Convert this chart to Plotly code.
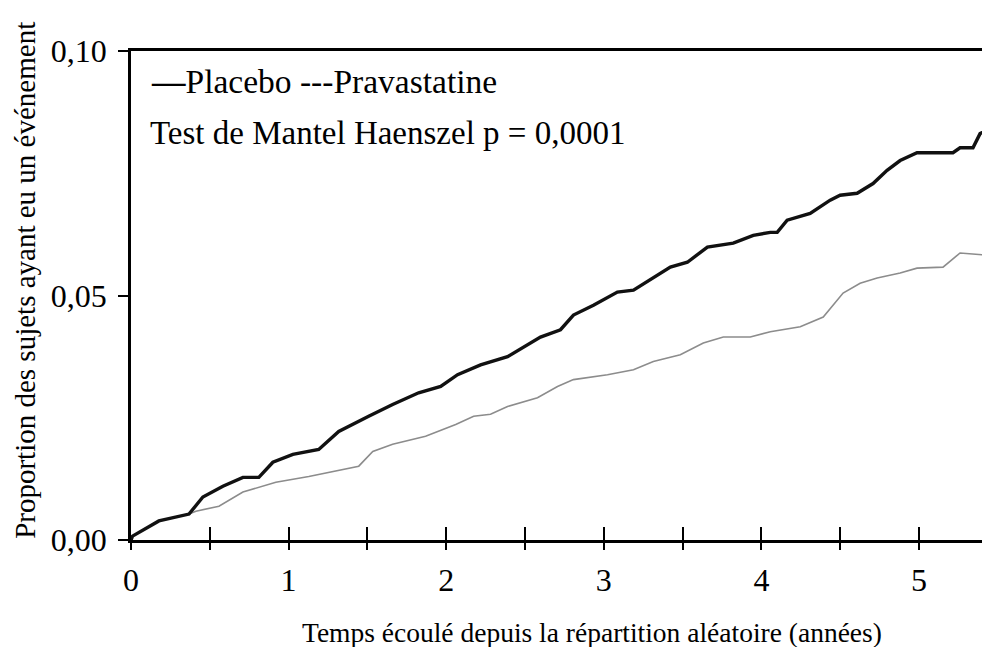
import plotly.graph_objects as go

placebo_t = [0, 0.01, 0.177, 0.368, 0.456, 0.583, 0.71, 0.811, 0.90, 1.027, 1.191, 1.318, 1.508, 1.66, 1.825,
             1.965, 2.072, 2.218, 2.389, 2.49, 2.598, 2.725, 2.807, 2.934, 3.086, 3.188, 3.295, 3.422, 3.53,
             3.657, 3.821, 3.948, 4.056, 4.10, 4.163, 4.309, 4.436, 4.499, 4.607, 4.708, 4.797, 4.88, 4.987,
             5.215, 5.26, 5.342, 5.387, 5.45]
placebo_p = [0, 0.0008, 0.0039, 0.0053, 0.0088, 0.011, 0.0128, 0.0128, 0.0159, 0.0175, 0.0185, 0.0222, 0.0253,
             0.0277, 0.0301, 0.0314, 0.0338, 0.0358, 0.0375, 0.0395, 0.0415, 0.043, 0.046, 0.048, 0.0507, 0.0511,
             0.0532, 0.0558, 0.0568, 0.0599, 0.0607, 0.0623, 0.0629, 0.0629, 0.0654, 0.0668, 0.0695, 0.0705,
             0.0709, 0.0729, 0.0756, 0.0776, 0.0792, 0.0792, 0.0802, 0.0802, 0.0831, 0.0841]

prava_t = [0, 0.01, 0.177, 0.368, 0.412, 0.558, 0.71, 0.919, 1.128, 1.28, 1.445, 1.534, 1.66, 1.869, 2.06,
           2.174, 2.281, 2.389, 2.579, 2.706, 2.807, 3.023, 3.188, 3.314, 3.485, 3.631, 3.758, 3.929, 4.056,
           4.246, 4.392, 4.518, 4.626, 4.734, 4.88, 4.987, 5.152, 5.26, 5.45]
prava_p = [0, 0.0008, 0.0039, 0.0053, 0.0059, 0.0069, 0.0098, 0.0118, 0.013, 0.014, 0.0151, 0.0181, 0.0196,
           0.0212, 0.0236, 0.0253, 0.0257, 0.0273, 0.0291, 0.0314, 0.0328, 0.0338, 0.0348, 0.0365, 0.0379,
           0.0403, 0.0415, 0.0415, 0.0426, 0.0436, 0.0456, 0.0505, 0.0525, 0.0536, 0.0546, 0.0556, 0.0558,
           0.0587, 0.0582]

x_tickvals = [0, 0.5, 1, 1.5, 2, 2.5, 3, 3.5, 4, 4.5, 5]
x_ticktext = ["0", "", "1", "", "2", "", "3", "", "4", "", "5"]
y_tickvals = [0, 0.05, 0.10]
y_ticktext = ["0,00", "0,05", "0,10"]

FONT = "Liberation Serif, Times New Roman, serif"

fig = go.Figure()
fig.add_trace(go.Scatter(x=prava_t, y=prava_p, mode="lines", name="Pravastatine",
                         line=dict(color="#8c8c8c", width=1.6)))
fig.add_trace(go.Scatter(x=placebo_t, y=placebo_p, mode="lines", name="Placebo",
                         line=dict(color="#111111", width=3.4)))
# invisible trace carrying the inward half of the x ticks
fig.add_trace(go.Scatter(x=[0], y=[0], xaxis="x2", mode="markers", marker=dict(opacity=0),
                         showlegend=False, hoverinfo="skip"))

fig.update_layout(
    width=982, height=639,
    margin=dict(l=123, r=0, t=43, b=107),
    paper_bgcolor="white", plot_bgcolor="white",
    showlegend=False,
    font=dict(family=FONT, color="black"),
    xaxis=dict(range=[0, 5.45], tickvals=x_tickvals, ticktext=x_ticktext,
               ticks="outside", ticklen=7, tickwidth=2, tickcolor="black",
               showline=True, linecolor="black", linewidth=2.5, mirror=True,
               showgrid=False, zeroline=False, ticklabelstandoff=3,
               tickfont=dict(size=32, family=FONT)),
    xaxis2=dict(range=[0, 5.45], overlaying="x", side="bottom", tickvals=x_tickvals,
                ticktext=[""] * len(x_tickvals), ticks="inside", ticklen=13, tickwidth=2,
                tickcolor="black", showline=False, showgrid=False, zeroline=False),
    yaxis=dict(range=[0, 0.10], tickvals=y_tickvals, ticktext=y_ticktext,
               ticks="outside", ticklen=10, tickwidth=2, tickcolor="black",
               showline=True, linecolor="black", linewidth=2.5,
               showgrid=False, zeroline=False, ticklabelstandoff=5,
               tickfont=dict(size=32, family=FONT)),
    annotations=[
        dict(text="Proportion des sujets ayant eu un événement", textangle=-90,
             xref="paper", yref="paper", x=-0.1234, y=0.532,
             xanchor="center", yanchor="middle", showarrow=False, font=dict(size=29, family=FONT)),
        dict(text="Temps écoulé depuis la répartition aléatoire (années)",
             xref="paper", yref="paper", x=0.537, y=-0.190,
             xanchor="center", yanchor="middle", showarrow=False, font=dict(size=27.5, family=FONT)),
        dict(text="<b>—</b>Placebo ---Pravastatine", xref="paper", yref="paper", x=0.021, y=0.937,
             xanchor="left", yanchor="middle", showarrow=False, font=dict(size=33.5, family=FONT)),
        dict(text="Test de Mantel Haenszel p = 0,0001", xref="paper", yref="paper", x=0.0198, y=0.832,
             xanchor="left", yanchor="middle", showarrow=False, font=dict(size=33, family=FONT)),
    ],
)

fig.write_html("out.html")
